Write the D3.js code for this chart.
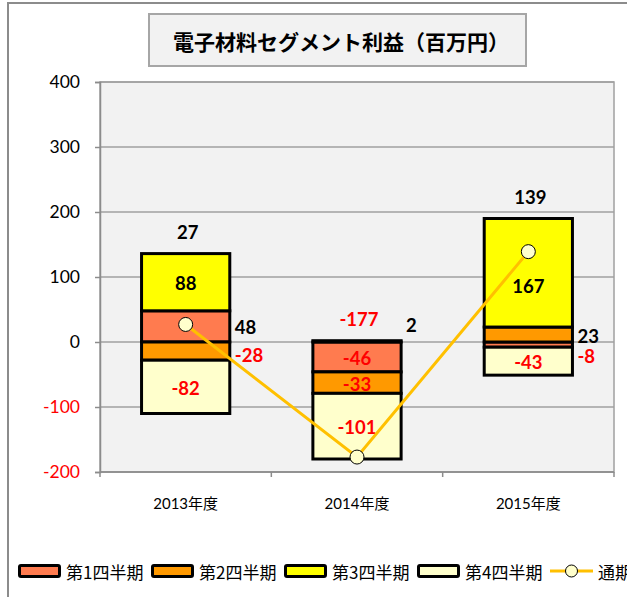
<!DOCTYPE html>
<html><head><meta charset="utf-8">
<script src="https://cdn.jsdelivr.net/npm/d3@7"></script>
<style>body{margin:0;background:#fff;}svg{display:block;}</style>
</head><body>
<svg id="c" width="627" height="597"></svg>
<script>
const title = "電子材料セグメント利益（百万円）";
const categories = ["2013年度", "2014年度", "2015年度"];
const seriesNames = ["第1四半期", "第2四半期", "第3四半期", "第4四半期"];
const q1 = [48, -46, -8];
const q2 = [-28, -33, 23];
const q3 = [88, 2, 167];
const q4 = [-82, -101, -43];
const annualName = "通期";
const annual = [27, -177, 139];
const yTicks = [-200, -100, 0, 100, 200, 300, 400];
// labels drawn beside the bar instead of inside it: [categoryIndex, seriesIndex]
const outsideLabels = [[0,0],[0,1],[1,2],[2,0],[2,1]];

const colors = ["#FF7B4F", "#FF9900", "#FFFF00", "#FFFFCC"];
const lineColor = "#FFC000";

const svg = d3.select("#c");
const plot = {l: 100, r: 614, t: 82, b: 472};

// chart area
svg.append("rect").attr("x", 8).attr("y", 3).attr("width", 700).attr("height", 700)
  .attr("fill", "#fff").attr("stroke", "#8c8c8c").attr("stroke-width", 2);

// title
svg.append("rect").attr("x", 149).attr("y", 14).attr("width", 377).attr("height", 52)
  .attr("fill", "#f2f2f2").attr("stroke", "#a6a6a6").attr("stroke-width", 2);
svg.append("text").attr("x", 341).attr("y", 41).attr("text-anchor", "middle")
  .attr("dominant-baseline", "central")
  .style("font-family", "'Noto Sans CJK JP'").style("font-weight", 700).style("font-size", "21px")
  .text(title);

const x = d3.scaleBand().domain(categories).range([plot.l, plot.r])
  .paddingInner(0.485).paddingOuter(0.2425);
const y = d3.scaleLinear().domain([-200, 400]).range([plot.b, plot.t]);
const step = x.step();

// plot area
svg.append("rect").attr("x", plot.l).attr("y", plot.t).attr("width", plot.r - plot.l)
  .attr("height", plot.b - plot.t).attr("fill", "#f2f2f2").attr("stroke", "#a0a0a0").attr("stroke-width", 1.5);

// gridlines
svg.append("g").selectAll("line").data(yTicks).join("line")
  .attr("x1", plot.l).attr("x2", plot.r).attr("y1", d => y(d)).attr("y2", d => y(d))
  .attr("stroke", "#a0a0a0").attr("stroke-width", 1.5);

// y axis
const yAxis = svg.append("g").attr("transform", `translate(${plot.l},0)`)
  .call(d3.axisLeft(y).tickValues(yTicks).tickSize(5).tickPadding(15).tickFormat(d => String(d)));
yAxis.select(".domain").attr("stroke", "#8c8c8c").attr("stroke-width", 1.5);
yAxis.selectAll(".tick line").attr("stroke", "#8c8c8c").attr("stroke-width", 1.5);
yAxis.selectAll(".tick text").style("font-family", "Lato").style("font-size", "17.5px")
  .attr("fill", d => d < 0 ? "#FF0000" : "#000");

// x axis
const xg = svg.append("g");
xg.append("line").attr("x1", plot.l).attr("x2", plot.r).attr("y1", plot.b).attr("y2", plot.b)
  .attr("stroke", "#8c8c8c").attr("stroke-width", 1.5);
const bounds = [plot.l].concat(categories.map(c => x(c) + x.bandwidth() / 2 + step / 2));
xg.selectAll("line.t").data(bounds).join("line").attr("class", "t")
  .attr("x1", d => d).attr("x2", d => d).attr("y1", plot.b).attr("y2", plot.b + 5)
  .attr("stroke", "#8c8c8c").attr("stroke-width", 1.5);
xg.selectAll("text").data(categories).join("text")
  .attr("x", d => x(d) + x.bandwidth() / 2).attr("y", 503)
  .attr("text-anchor", "middle").attr("dominant-baseline", "central")
  .style("font-family", "Lato, 'Noto Sans CJK JP'").style("font-size", "15px").text(d => d);

// stacked data
const table = categories.map((c, i) => ({cat: c, s0: q1[i], s1: q2[i], s2: q3[i], s3: q4[i]}));
const keys = ["s0", "s1", "s2", "s3"];
const stacked = d3.stack().keys(keys).offset(d3.stackOffsetDiverging)(table);

const bars = svg.append("g");
stacked.forEach((layer, si) => {
  bars.append("g").selectAll("rect").data(layer).join("rect")
    .attr("x", d => x(d.data.cat)).attr("width", x.bandwidth())
    .attr("y", d => y(Math.max(d[0], d[1])))
    .attr("height", d => Math.abs(y(d[0]) - y(d[1])))
    .attr("fill", colors[si]).attr("stroke", "#000").attr("stroke-width", 3);
});

// segment labels
const isOutside = (ci, si) => outsideLabels.some(p => p[0] === ci && p[1] === si);
const lbl = svg.append("g").style("font-family", "Lato").style("font-weight", 700).style("font-size", "18.5px");
const markerY = annual.map(v => y(v));
stacked.forEach((layer, si) => {
  layer.forEach((d, ci) => {
    const v = d.data[keys[si]];
    const top = y(Math.max(d[0], d[1])), bot = y(Math.min(d[0], d[1]));
    let tx, ty, anchor;
    if (isOutside(ci, si)) {
      tx = x(d.data.cat) + x.bandwidth() + 5; anchor = "start";
      if (bot - top < 10) ty = v >= 0 ? top - 16 : bot + 9;
      else ty = (top + bot) / 2 + (v < 0 ? 4 : 1);
    } else {
      tx = x(d.data.cat) + x.bandwidth() / 2; anchor = "middle";
      ty = (top + bot) / 2 + 1;
      // keep label clear of the annual marker when the marker sits inside a tall segment
      if (bot - top > 80 && markerY[ci] > top && markerY[ci] < ty) ty += 12;
    }
    lbl.append("text").attr("x", tx).attr("y", ty).attr("text-anchor", anchor)
      .attr("dominant-baseline", "central")
      .attr("fill", v < 0 ? "#FF0000" : "#000").text(v);
  });
});

// annual line
const cx = i => x(categories[i]) + x.bandwidth() / 2;
svg.append("path").datum(annual)
  .attr("d", d3.line().x((d, i) => cx(i)).y(d => y(d)))
  .attr("fill", "none").attr("stroke", lineColor).attr("stroke-width", 3);
svg.append("g").selectAll("circle").data(annual).join("circle")
  .attr("cx", (d, i) => cx(i)).attr("cy", d => y(d)).attr("r", 7)
  .attr("fill", "#FFFFCC").attr("stroke", "#000").attr("stroke-width", 1);

// annual labels above stacks
const posTop = categories.map((c, i) => d3.max(stacked, l => l[i][1]));
lbl.selectAll("text.a").data(annual).join("text").attr("class", "a")
  .attr("x", (d, i) => cx(i) + 2).attr("y", (d, i) => y(posTop[i]) - 22)
  .attr("text-anchor", "middle").attr("dominant-baseline", "central")
  .attr("fill", d => d < 0 ? "#FF0000" : "#000").text(d => d);

// legend
const lg = svg.append("g").style("font-family", "'Noto Sans CJK JP'").style("font-size", "17px");
const ly = 571, pitch = 133, lx0 = 18;
seriesNames.forEach((n, i) => {
  const gx = lx0 + i * pitch;
  lg.append("rect").attr("x", gx + 1.5).attr("y", ly - 5.5).attr("width", 40).attr("height", 11)
    .attr("rx", 1.5).attr("fill", colors[i]).attr("stroke", "#000").attr("stroke-width", 3);
  lg.append("text").attr("x", gx + 48).attr("y", ly).attr("dominant-baseline", "central").text(n);
});
{
  const gx = lx0 + 4 * pitch;
  lg.append("line").attr("x1", gx).attr("x2", gx + 43).attr("y1", ly).attr("y2", ly)
    .attr("stroke", lineColor).attr("stroke-width", 3);
  lg.append("circle").attr("cx", gx + 21.5).attr("cy", ly).attr("r", 6)
    .attr("fill", "#FFFFCC").attr("stroke", "#000").attr("stroke-width", 1);
  lg.append("text").attr("x", gx + 48).attr("y", ly).attr("dominant-baseline", "central").text(annualName);
}
</script>
</body></html>
